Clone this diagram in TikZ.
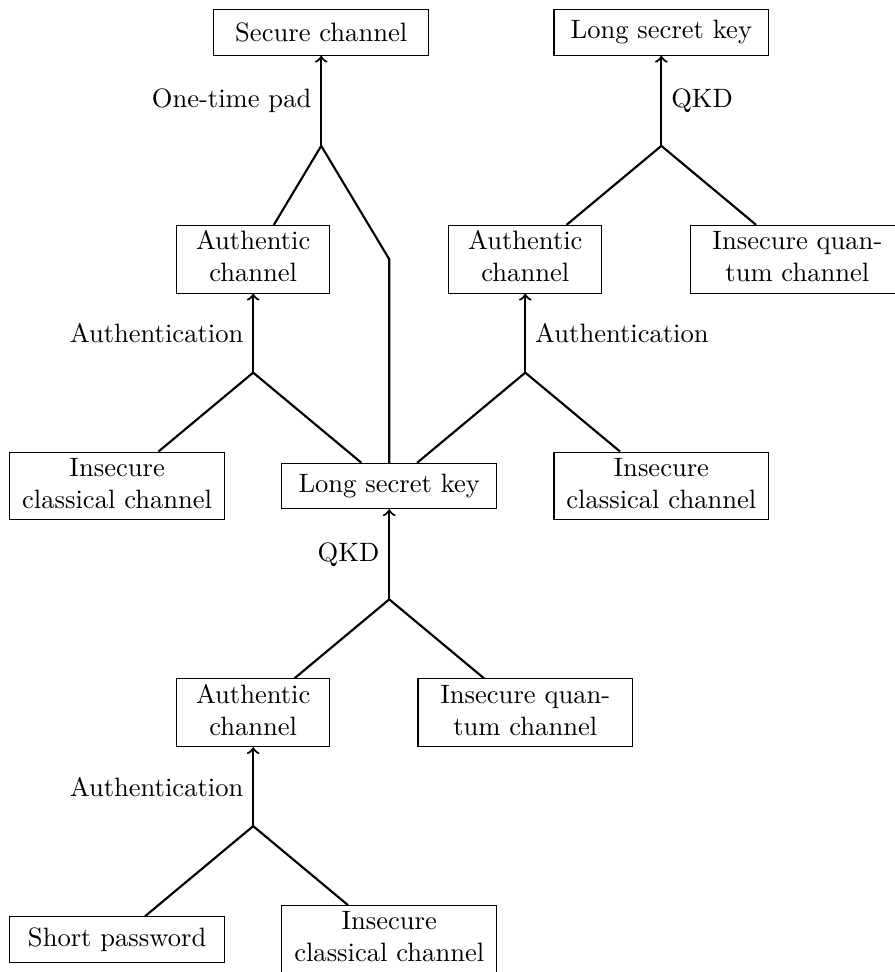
\documentclass[tikz,border=0pt]{standalone}
\usetikzlibrary{arrows, positioning, calc}
\setlength{\tabcolsep}{0pt}
\def \boxwidth {2.84cm}
\def \authwidth {2.02cm}

\begin{document}
\begin{tikzpicture}[x = 1.8cm, y = 1.5cm,
  box/.style = {draw, minimum width = \boxwidth, minimum height = 0.6cm, inner ysep = 0.75pt},
  authbox/.style = {box, minimum width = \authwidth}]
\useasboundingbox (-5.15cm, -6.43cm) rectangle (6.68cm, 6.43cm);

\node (lsk1) [box] at (0, 0) {Long secret key};
\node (icc1) [box] at (-2, 0) {\begin{tabular}{c}Insecure\\classical channel\end{tabular}};
\node (icc2) [box] at (2, 0) {\begin{tabular}{c}Insecure\\classical channel\end{tabular}};

\node (auth1) [authbox] at (-1, 2) {\begin{tabular}{c}Authentic\\channel\end{tabular}};
\node (auth2) [authbox] at (1, 2) {\begin{tabular}{c}Authentic\\channel\end{tabular}};
\node (iqc1) [box] at (3, 2) {\begin{tabular}{c}Insecure quan-\\tum channel\end{tabular}};

\node (secch) [box] at (-0.5, 4) {Secure channel};
\node (lsk2) [box] at (2, 4) {Long secret key};

\node (auth3) [authbox] at (-1, -2) {\begin{tabular}{c}Authentic\\channel\end{tabular}};
\node (iqc2) [box] at (1, -2) {\begin{tabular}{c}Insecure quan-\\tum channel\end{tabular}};

\node (spw) [box] at (-2, -4) {Short password};
\node (icc3) [box] at (0, -4) {\begin{tabular}{c}Insecure\\classical channel\end{tabular}};

% one-time pad
\coordinate (joint1) at (-0.5, 3);
\coordinate (jointB) at (0, 2);
\draw[-, thick] (auth1) to (joint1);
\draw[-, thick] (lsk1) to (jointB) to (joint1);
\draw[->, thick] (joint1) to node [left] {One-time pad} (secch);

% qkd on top
\coordinate (joint2) at (2, 3);
\draw[-, thick] (auth2) to (joint2);
\draw[-, thick] (iqc1) to (joint2);
\draw[->, thick] (joint2) to node [right] {QKD} (lsk2);

% authentication with the key
\coordinate (joint3) at (-1, 1);
\draw[-, thick] (icc1) to (joint3);
\draw[-, thick] (lsk1) to (joint3);
\draw[->, thick] (joint3) to node [left] {Authentication} (auth1);

\coordinate (joint4) at (1, 1);
\draw[-, thick] (lsk1) to (joint4);
\draw[-, thick] (icc2) to (joint4);
\draw[->, thick] (joint4) to node [right] {Authentication} (auth2);

% qkd in the middle
\coordinate (joint5) at (0, -1);
\draw[-, thick] (auth3) to (joint5);
\draw[-, thick] (iqc2) to (joint5);
\draw[->, thick] (joint5) to node [left] {QKD} (lsk1);

% authentication with the password
\coordinate (joint6) at (-1, -3);
\draw[-, thick] (spw) to (joint6);
\draw[-, thick] (icc3) to (joint6);
\draw[->, thick] (joint6) to node [left] {Authentication} (auth3);

\end{tikzpicture}
\end{document}
